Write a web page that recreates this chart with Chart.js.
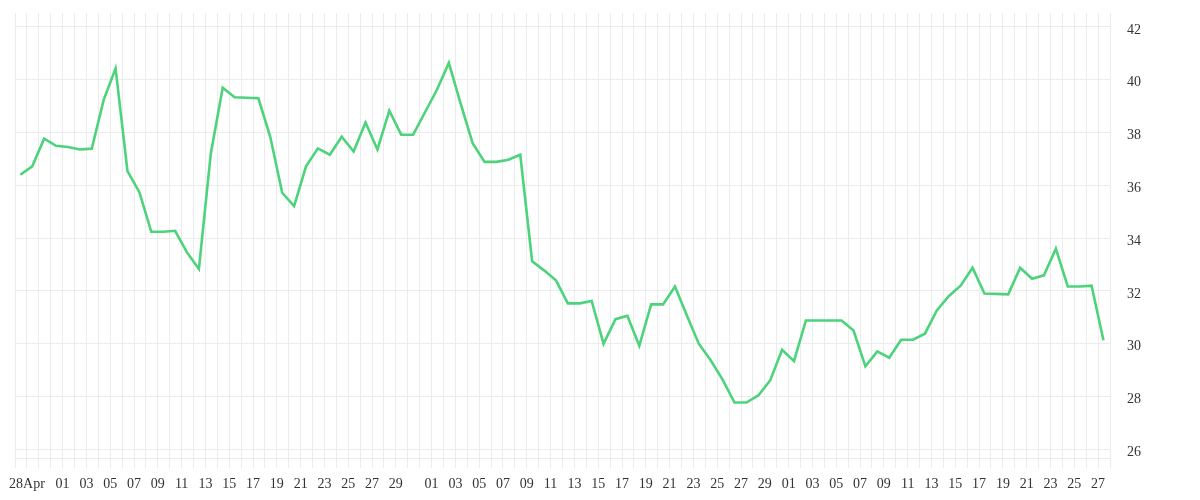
<!DOCTYPE html>
<html>
<head>
<meta charset="utf-8">
<script src="https://cdn.jsdelivr.net/npm/chart.js@4/dist/chart.umd.min.js"></script>
<style>
  html, body { margin: 0; padding: 0; background: #fff; }
  #wrap { width: 1200px; height: 500px; }
</style>
</head>
<body>
<div id="wrap"><canvas id="chart" width="1200" height="500"></canvas></div>
<script>
// daily closes, one per day starting 27 Apr
const values = [
  36.40, 36.72, 37.77, 37.50, 37.45, 37.36, 37.39, 39.24, 40.43, 36.54,
  35.74, 34.24, 34.24, 34.28, 33.46, 32.83, 37.20, 39.70, 39.34, 39.32,
  39.30, 37.83, 35.72, 35.21, 36.72, 37.40, 37.16, 37.84, 37.28, 38.38,
  37.36, 38.83, 37.92, 37.92, 38.77, 39.62, 40.64, 39.09, 37.60, 36.89,
  36.89, 36.97, 37.16, 33.12, 32.78, 32.40, 31.53, 31.53, 31.62, 30.00,
  30.93, 31.06, 29.92, 31.49, 31.49, 32.17, 31.07, 30.00, 29.37, 28.64,
  27.77, 27.77, 28.04, 28.61, 29.77, 29.34, 30.88, 30.88, 30.88, 30.88,
  30.50, 29.14, 29.71, 29.47, 30.15, 30.15, 30.38, 31.26, 31.80, 32.20,
  32.88, 31.90, 31.89, 31.87, 32.88, 32.46, 32.59, 33.60, 32.17, 32.17,
  32.20, 30.13
];

// x tick labels: day index (from 27 Apr) -> text
const tickDays = [1, 4, 6, 8, 10, 12, 14, 16, 18, 20, 22, 24, 26, 28, 30, 32,
  35, 37, 39, 41, 43, 45, 47, 49, 51, 53, 55, 57, 59, 61, 63,
  65, 67, 69, 71, 73, 75, 77, 79, 81, 83, 85, 87, 89, 91];
const tickLabels = ['28Apr', '01', '03', '05', '07', '09', '11', '13', '15', '17', '19', '21', '23', '25', '27', '29',
  '01', '03', '05', '07', '09', '11', '13', '15', '17', '19', '21', '23', '25', '27', '29',
  '01', '03', '05', '07', '09', '11', '13', '15', '17', '19', '21', '23', '25', '27'];
const dayCount = 92;

const yTicks = [26, 28, 30, 32, 34, 36, 38, 40, 42];
const yMin = 25.67, yMax = 42.53;

const labelFor = {};
tickDays.forEach((d, i) => labelFor[d] = tickLabels[i]);

const grid = '#ececec';
const font = { family: "'Liberation Serif', serif", size: 14 };

new Chart(document.getElementById('chart'), {
  type: 'line',
  data: {
    datasets: [{
      // points sit a little past midnight of their day
      data: values.map((v, i) => ({ x: i + 0.45, y: v })),
      borderColor: '#4cd37b',
      borderWidth: 2.6,
      pointRadius: 0,
      tension: 0,
      fill: false
    }]
  },
  options: {
    responsive: false,
    animation: false,
    devicePixelRatio: 1,
    layout: { padding: { left: 15, top: 13, right: 0, bottom: 0 } },
    plugins: { legend: { display: false }, tooltip: { enabled: false } },
    scales: {
      x: {
        type: 'linear',
        min: 0,
        max: dayCount,
        afterBuildTicks: s => { s.ticks = Array.from({ length: dayCount + 1 }, (_, d) => ({ value: d })); },
        afterFit: s => { s.height = 42; },
        grid: { color: grid, drawTicks: true, tickLength: 10 },
        border: { color: grid },
        ticks: {
          autoSkip: false, maxRotation: 0, minRotation: 0,
          padding: 8, color: '#333', font,
          callback: v => labelFor[v] ?? ''
        }
      },
      y: {
        position: 'right',
        min: yMin,
        max: yMax,
        afterBuildTicks: s => { s.ticks = yTicks.map(v => ({ value: v })); },
        // label padding would otherwise push the plot top down
        afterFit: s => { s.width = 90; s.paddingTop = 9; s.paddingBottom = 9; },
        grid: { color: grid, drawTicks: false },
        border: { color: grid },
        ticks: { padding: 17, labelOffset: 3, color: '#333', font }
      }
    }
  }
});
</script>
</body>
</html>
